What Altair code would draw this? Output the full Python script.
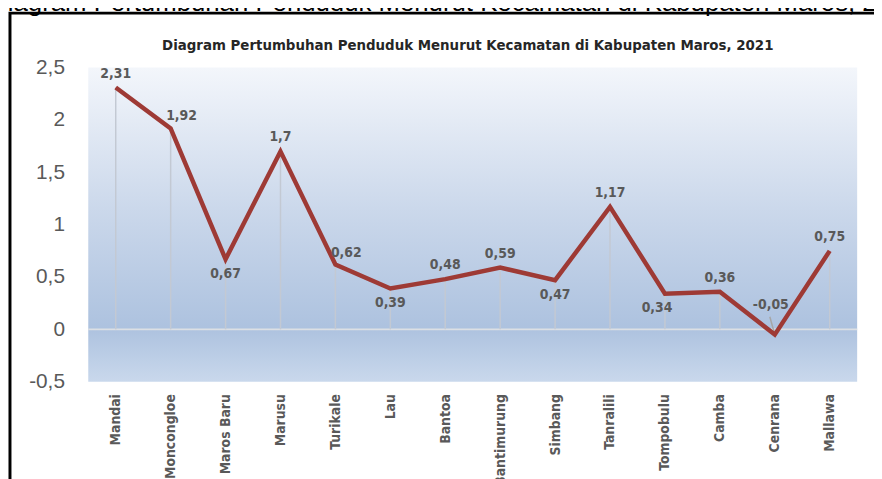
import altair as alt
import pandas as pd

kecamatan = ["Mandai", "Moncongloe", "Maros Baru", "Marusu", "Turikale", "Lau", "Bantoa",
             "Bantimurung", "Simbang", "Tanralili", "Tompobulu", "Camba", "Cenrana", "Mallawa"]
pertumbuhan = [2.31, 1.92, 0.67, 1.7, 0.62, 0.39, 0.48, 0.59, 0.47, 1.17, 0.34, 0.36, -0.05, 0.75]
y_ticks = [-0.5, 0, 0.5, 1, 1.5, 2, 2.5]
label_below = ["Maros Baru", "Lau", "Simbang"]
label_below_left = ["Tompobulu"]
label_right = ["Moncongloe", "Turikale"]
label_leader = ["Cenrana"]
title_text = "Diagram Pertumbuhan Penduduk Menurut Kecamatan di Kabupaten Maros, 2021"


def pos_of(k):
    if k in label_below:
        return "below"
    if k in label_below_left:
        return "belowleft"
    if k in label_right:
        return "right"
    if k in label_leader:
        return "leader"
    return "above"


df = pd.DataFrame({"kec": kecamatan, "val": pertumbuhan})
df["lbl"] = [f"{v:g}".replace(".", ",") for v in pertumbuhan]
df["zero"] = 0.0
df["pos"] = [pos_of(k) for k in kecamatan]

W, H = 776, 317
NARROW = "Liberation Sans Narrow, DejaVu Sans Condensed, Liberation Sans, sans-serif"
GREY = "#595959"

xenc = alt.X("kec:N", sort=kecamatan, scale=alt.Scale(type="point", padding=0.5),
             axis=alt.Axis(title=None, labelAngle=-90, labelAlign="right", labelBaseline="middle",
                           labelPadding=12, domain=False, ticks=False, labelFont=NARROW,
                           labelFontWeight="bold", labelFontSize=14, labelColor=GREY))
yscale = alt.Scale(domain=[-0.5, 2.5], nice=False, zero=False)
yenc = alt.Y("val:Q", scale=yscale,
             axis=alt.Axis(title=None, values=y_ticks, grid=False, domain=False, ticks=False,
                           labelExpr="replace(toString(datum.value), '.', ',')", labelFontSize=21,
                           labelFont="Liberation Sans", labelColor=GREY, labelPadding=24))

one = pd.DataFrame({"a": [0]})

frame = alt.Chart(one).mark_rect(fill=None, stroke="black", strokeWidth=3).encode(
    x=alt.value(-79), x2=alt.value(W + 40), y=alt.value(-55), y2=alt.value(H + 140))

bg = alt.Chart(one).mark_rect(
    color=alt.Gradient(gradient="linear", x1=0, x2=0, y1=0, y2=1,
                       stops=[alt.GradientStop(offset=0, color="#f3f6fb"),
                              alt.GradientStop(offset=0.45, color="#cbd8eb"),
                              alt.GradientStop(offset=0.83, color="#adc2df"),
                              alt.GradientStop(offset=1, color="#c9d8ec")])
).encode(x=alt.value(0), x2=alt.value(W), y=alt.value(0), y2=alt.value(H))

big_title = alt.Chart(one).mark_text(align="left", baseline="alphabetic", fontSize=26,
                                     font="Liberation Sans", color="black").encode(
    x=alt.value(-100), y=alt.value(-57), text=alt.value(title_text))

inner_title = alt.Chart(one).mark_text(align="center", baseline="middle", fontSize=15,
                                       font=NARROW, fontWeight="bold", color="#262626").encode(
    x=alt.value(383), y=alt.value(-23), text=alt.value(title_text))

base = alt.Chart(df)

zero_line = alt.Chart(pd.DataFrame({"z": [0.0]})).mark_rule(color="#dcdfe4", strokeWidth=2).encode(
    y=alt.Y("z:Q", scale=yscale))

drops = base.mark_rule(color="#c3c9d3", strokeWidth=1.5).encode(
    x=xenc, y=yenc, y2="zero:Q")

leader = base.transform_filter("datum.pos == 'leader'").transform_calculate(
    lead="datum.val + 0.17").mark_rule(color="#a6a6a6", strokeWidth=1.5, x2Offset=-5).encode(
    x=xenc, x2="kec:N", y=yenc, y2="lead:Q")

line = base.mark_line(color="#9e3a35", strokeWidth=4.5, strokeJoin="miter").encode(x=xenc, y=yenc)

lab_style = dict(font=NARROW, fontWeight="bold", fontSize=14, color=GREY, baseline="middle")


def labels(pos, dx, dy):
    return base.transform_filter(f"datum.pos == '{pos}'").mark_text(
        dx=dx, dy=dy, **lab_style).encode(x=xenc, y=yenc, text="lbl:N")


chart = alt.layer(bg, zero_line, drops, leader, line,
                  labels("above", 0, -14), labels("below", 0, 15), labels("belowleft", -8, 14),
                  labels("right", 11, -12), labels("leader", -4, -30),
                  inner_title, big_title, frame).properties(
    width=W, height=H,
    autosize=alt.AutoSizeParams(type="none"),
    padding={"left": 81, "top": 58, "right": 17, "bottom": 96},
).configure_view(stroke=None)

chart.save("out.html", embed_options={"renderer": "svg", "actions": False})
